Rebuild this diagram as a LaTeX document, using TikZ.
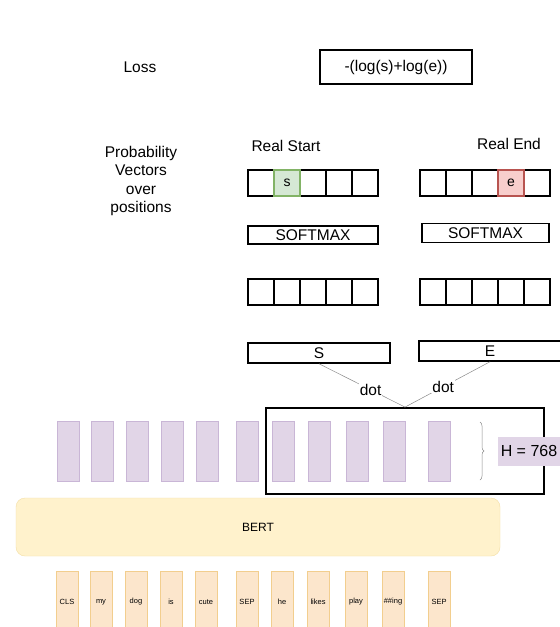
\documentclass[tikz,border=0pt]{standalone}
\usepackage{fontspec}
\setmainfont{Liberation Sans}
\usetikzlibrary{decorations.pathreplacing}
\definecolor{hidpurple}{HTML}{E1D5E7}
\definecolor{hidedge}{HTML}{C9B6D6}
\definecolor{bertfill}{HTML}{FFF2CC}
\definecolor{bertedge}{HTML}{F3DFA6}
\definecolor{tokfill}{HTML}{FCE6CC}
\definecolor{tokedge}{HTML}{F2CE8E}
\definecolor{startgreen}{HTML}{D5E8D4}
\definecolor{startedge}{HTML}{82B366}
\definecolor{endred}{HTML}{F8CECC}
\definecolor{endedge}{HTML}{B85450}

\begin{document}
\begin{tikzpicture}[x=1pt,y=-1pt]
\tikzset{
  box/.style={draw=black,line width=1.5pt,minimum width=130pt,minimum height=18pt,inner sep=0pt,font=\fontsize{15.5}{17}\selectfont},
  cell/.style={draw=black,line width=1.5pt,minimum width=26pt,minimum height=26pt,inner sep=0pt,font=\fontsize{14}{16}\selectfont},
  lab/.style={font=\fontsize{15.5}{18.4}\selectfont,align=center,inner sep=1pt},
  hid/.style={draw=hidedge,fill=hidpurple,line width=.4pt,minimum width=22pt,minimum height=60pt,inner sep=0pt},
  tok/.style={draw=tokedge,fill=tokfill,line width=.4pt,minimum width=22pt,minimum height=62pt,inner sep=0pt,font=\fontsize{7.5}{8}\selectfont},
  dotline/.style={draw=black!45,line width=.5pt}
}
\fill[white] (0,0) rectangle (560,627);
\clip (0,0) rectangle (560,627);

% loss
\node[lab] (losslab) at (140,67) {Loss};
\node[box,minimum width=152pt,minimum height=34pt] (loss) at (396,67) {-(log(s)+log(e))};

% probability vectors
\node[lab] (problab) at (141,181) {Probability\\Vectors\\over\\positions};
\node[lab] (realstart) at (286,146) {Real Start};
\node[lab] (realend) at (509,144) {Real End};
\foreach \i in {1,...,5}{
  \node[cell] (sp\i) at (235+26*\i,183) {};
  \node[cell] (ep\i) at (407+26*\i,183) {};
  \node[cell] (sl\i) at (235+26*\i,292) {};
  \node[cell] (el\i) at (407+26*\i,292) {};
}
\node[cell,draw=startedge,fill=startgreen] (sgold) at (sp2) {s};
\node[cell,draw=endedge,fill=endred] (egold) at (ep4) {e};
\node[box] (ssoft) at (313,235) {SOFTMAX};
\node[box,minimum width=127pt,minimum height=19pt] (esoft) at (485.5,233) {SOFTMAX};
\node[box,minimum width=142pt,minimum height=20pt] (svec) at (319,353) {S};
\node[box,minimum width=142pt,minimum height=20pt] (evec) at (490,351) {E};

% hidden states
\node[draw=black,line width=1.8pt,minimum width=278pt,minimum height=86pt,inner sep=0pt] (seg) at (405,451) {};
\coordinate (junc) at (seg.north);
\draw[dotline] (svec.south) -- node[lab,fill=white,pos=.6] {dot} (junc);
\draw[dotline] (evec.south) -- node[lab,fill=white,pos=.55] {dot} (junc);
\foreach \x [count=\k] in {68,102,137,172,207,247,283,319,357,394,439}
  \node[hid] (h\k) at (\x,451) {};
\draw[black!45,line width=.5pt,decorate,decoration={brace,amplitude=4pt}] (480,422) -- (480,480);
\node[fill=hidpurple,minimum width=62pt,minimum height=29pt,inner sep=0pt,font=\fontsize{16}{18}\selectfont] (hsize) at (529,451) {H = 768};

% bert and tokens
\node[draw=bertedge,fill=bertfill,rounded corners=9pt,minimum width=484pt,minimum height=58pt,font=\fontsize{12}{14}\selectfont] (bert) at (258,527) {BERT};
\foreach \x/\t [count=\k] in {67/CLS,101/my,136/dog,171/is,206/cute,247/SEP,282/he,318/likes,356/play,393/\#\#ing,439/SEP}
  \node[tok] (t\k) at (\x,602) {\t};
\end{tikzpicture}
\end{document}
